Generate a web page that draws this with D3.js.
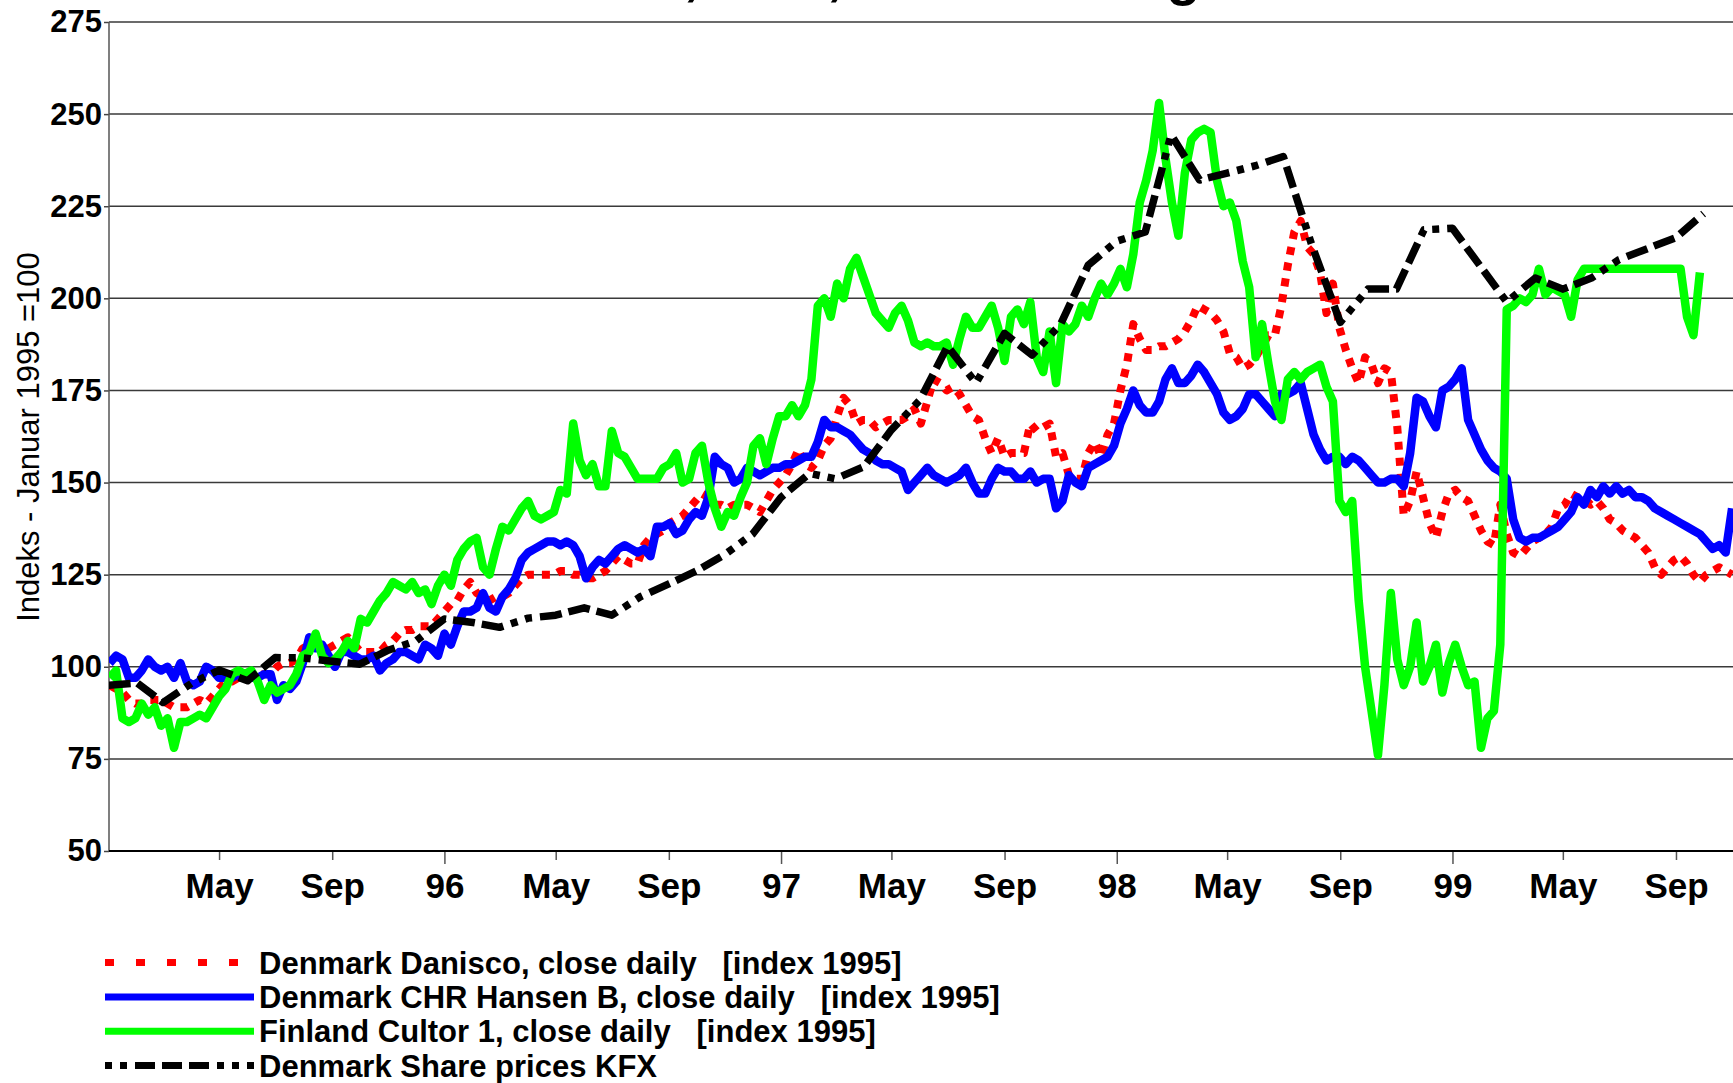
<!DOCTYPE html>
<html>
<head>
<meta charset="utf-8">
<script src="https://cdn.jsdelivr.net/npm/d3@7"></script>
<style>
  html, body { margin: 0; padding: 0; background: #fff; }
  svg { display: block; font-family: "Liberation Sans", Arial, sans-serif; }
</style>
</head>
<body>
<svg id="chart" width="1733" height="1083"></svg>
<script>
// weekly closes, first value = week of 1995-01-02
const weekStart = "1995-01-02";

const danisco = [
  95, 94, 93, 91, 90, 90, 91, 91, 91, 90,
  89, 89, 89, 90, 91, 90, 92, 94, 96, 96,
  97, 97, 97, 98, 98, 98, 100, 101, 101, 102,
  105, 106, 106, 106, 105, 106, 107, 108, 106, 104,
  104, 104, 104, 106, 107, 109, 110, 110, 111, 111,
  111, 113, 115, 117, 118, 121, 123, 120, 119, 118,
  119, 119, 120, 122, 124, 125, 125, 125, 125, 125,
  126, 126, 125, 125, 124, 124, 125, 126, 128, 130,
  129, 128, 128, 133, 135, 136, 137, 139, 140, 141,
  143, 145, 147, 146, 144, 144, 143, 144, 144, 144,
  143, 142, 145, 148, 150, 152, 155, 159, 155, 154,
  156, 160, 162, 168, 173, 171, 166, 167, 167, 165,
  166, 167, 167, 167, 168, 170, 166, 172, 178, 177,
  175, 176, 174, 171, 168, 167, 162, 158, 162, 157,
  158, 158, 158, 166, 164, 165, 166, 157, 158, 152,
  151, 151, 158, 161, 157, 163, 166, 175, 182, 193,
  189, 186, 186, 187, 187, 188, 189, 191, 194, 198,
  197, 196, 194, 191, 185, 184, 181, 182, 184, 187,
  190, 190, 198, 209, 218, 221, 214, 212, 207, 196,
  204, 192, 186, 181, 177, 184, 182, 177, 181, 180,
  165, 141, 145, 153, 146, 139, 135, 142, 147, 148,
  146, 145, 141, 137, 134, 133, 144, 136, 131, 130,
  132, 134, 135, 136, 138, 143, 144, 147, 146, 146,
  144, 145, 143, 140, 139, 137, 136, 135, 133, 131,
  127, 125, 127, 129, 130, 128, 125, 123, 125, 126,
  127, 126, 125
];

const hansen = [
  101, 103, 102, 97, 97, 99, 102, 100, 99, 100,
  97, 101, 96, 95, 96, 100, 99, 97, 97, 97,
  98, 98, 97, 97, 98, 98, 91, 95, 94, 96,
  101, 108, 105, 106, 103, 100, 104, 104, 103, 102,
  102, 103, 99, 101, 102, 104, 104, 103, 102, 106,
  105, 103, 109, 106, 111, 115, 115, 116, 120, 116,
  115, 119, 121, 124, 129, 131, 132, 133, 134, 134,
  133, 134, 133, 130, 124, 127, 129, 128, 130, 132,
  133, 132, 131, 132, 130, 138, 138, 139, 136, 137,
  140, 142, 141, 146, 157, 155, 154, 150, 151, 154,
  153, 152, 153, 154, 154, 155, 155, 156, 157, 157,
  161, 167, 165, 165, 164, 163, 161, 159, 158, 156,
  155, 155, 154, 153, 148, 150, 152, 154, 152, 151,
  150, 151, 152, 154, 150, 147, 147, 151, 154, 153,
  153, 151, 151, 153, 150, 151, 151, 143, 145, 152,
  150, 149, 154, 155, 156, 157, 160, 166, 170, 175,
  171, 169, 169, 172, 178, 181, 177, 177, 179, 182,
  180, 177, 174, 169, 167, 168, 170, 174, 174, 172,
  170, 168, 174, 174, 175, 177, 170, 163, 159, 156,
  157, 157, 155, 157, 156, 154, 152, 150, 150, 151,
  151, 149, 158, 173, 172, 168, 165, 175, 176, 178,
  181, 167, 163, 159, 156, 154, 153, 151, 140, 135,
  134, 135, 135, 136, 137, 138, 140, 142, 146, 144,
  148, 146, 149, 147, 149, 147, 148, 146, 146, 145,
  143, 142, 141, 140, 139, 138, 137, 136, 134, 132,
  133, 131, 143
];

const cultor = [
  97, 99, 86, 85, 86, 90, 87, 89, 84, 86,
  78, 85, 85, 86, 87, 86, 89, 92, 94, 98,
  99, 98, 99, 96, 91, 95, 93, 94, 95, 98,
  103, 104, 109, 103, 101, 102, 104, 107, 105, 113,
  112, 115, 118, 120, 123, 122, 121, 123, 120, 121,
  117, 122, 125, 122, 129, 132, 134, 135, 127, 125,
  132, 138, 137, 140, 143, 145, 141, 140, 141, 142,
  148, 147, 166, 156, 152, 155, 149, 149, 164, 158,
  157, 154, 151, 151, 151, 151, 154, 155, 158, 150,
  151, 158, 160, 150, 143, 138, 142, 141, 146, 150,
  160, 162, 155, 162, 168, 168, 171, 168, 171, 178,
  198, 200, 195, 204, 200, 208, 211, 206, 201, 196,
  194, 192, 196, 198, 194, 188, 187, 188, 187, 187,
  188, 182, 189, 195, 192, 192, 195, 198, 192, 183,
  195, 197, 193, 199, 184, 180, 191, 177, 193, 191,
  193, 198, 195, 200, 204, 201, 204, 208, 203, 212,
  226, 232, 240, 253, 238, 226, 217, 234, 243, 245,
  246, 245, 232, 225, 226, 221, 210, 203, 184, 193,
  182, 172, 167, 178, 180, 178, 180, 181, 182, 176,
  172, 145, 142, 145, 118, 100, 88, 76, 95, 120,
  102, 95, 100, 112, 96, 100, 106, 93, 101, 106,
  100, 95, 96, 78, 86, 88, 106, 197, 198, 200,
  199, 201, 208, 201, 203, 202, 201, 195, 205, 208,
  208, 208, 208, 208, 208, 208, 208, 208, 208, 208,
  208, 208, 208, 208, 208, 195, 190, 207
];

// KFX is monthly, first value = 1995-01-01
const kfxStart = "1995-01-01";
const kfx = [
  95, 95.6, 90.3, 95.5, 99.1, 96.2, 102.5, 102.4, 101.5, 100.7,
  104.5, 107, 113, 112, 110.7, 113.2, 114, 116, 114, 119,
  122.5, 126, 130.5, 136, 146, 152.5, 151, 154.3, 164.3, 172.4,
  187, 177, 190.5, 184.6, 193, 209, 215.5, 218, 244.4, 232.1,
  234, 236, 238.5, 214.5, 193.5, 202.5, 202.5, 218.6, 219, 208.5,
  199, 205.5, 202.5, 205.5, 210.5, 213.5, 216.5, 223
];

const yTicks = [50, 75, 100, 125, 150, 175, 200, 225, 250, 275];
const xTickDates = ["1995-05-01", "1995-09-01", "1996-01-01", "1996-05-01", "1996-09-01",
  "1997-01-01", "1997-05-01", "1997-09-01", "1998-01-01", "1998-05-01", "1998-09-01",
  "1999-01-01", "1999-05-01", "1999-09-01"];
const xTickLabels = ["May", "Sep", "96", "May", "Sep", "97", "May", "Sep", "98",
  "May", "Sep", "99", "May", "Sep"];
const legendLabels = [
  "Denmark Danisco, close daily   [index 1995]",
  "Denmark CHR Hansen B, close daily   [index 1995]",
  "Finland Cultor 1, close daily   [index 1995]",
  "Denmark Share prices KFX"
];
const titleText = "Danisco, KFX, Hansen B og Cultor";
const yTitle = "Indeks - Januar 1995 =100";

const parse = d3.utcParse("%Y-%m-%d");
const weekly = (values) =>
  values.map((v, i) => ({ date: d3.utcDay.offset(parse(weekStart), 7 * i), value: v }));
const monthly = (values) =>
  values.map((v, i) => ({ date: d3.utcMonth.offset(parse(kfxStart), i), value: v }));

const svg = d3.select("#chart");
const plotLeft = 109, plotRight = 1733, plotTop = 22, plotBottom = 851;

const x = d3.scaleUtc()
  .domain([parse("1995-01-01"), parse("1999-11-02")])
  .range([108.7, plotRight]);
const y = d3.scaleLinear().domain([50, 275]).range([plotBottom, plotTop]);

svg.append("rect").attr("width", 1733).attr("height", 1083).attr("fill", "#fff");

// title sits above the top edge; only its descenders reach into the picture
svg.append("text")
  .attr("x", 466).attr("y", -6)
  .attr("font-size", 56).attr("font-weight", "bold")
  .text(titleText);

// gridlines
svg.append("g")
  .selectAll("line")
  .data(yTicks.filter((d) => d > 50))
  .join("line")
  .attr("x1", plotLeft).attr("x2", plotRight)
  .attr("y1", (d) => y(d)).attr("y2", (d) => y(d))
  .attr("stroke", "#3a3a3a")
  .attr("stroke-width", 1.5);

// y axis
const yAxis = svg.append("g")
  .attr("transform", `translate(${plotLeft},0)`)
  .call(d3.axisLeft(y).tickValues(yTicks).tickSize(5).tickPadding(2));
yAxis.select(".domain").remove();
yAxis.selectAll(".tick line").attr("stroke", "#444").attr("stroke-width", 1.5);
yAxis.selectAll(".tick text")
  .attr("font-family", "Liberation Sans, Arial, sans-serif")
  .attr("font-size", 31)
  .attr("font-weight", "bold")
  .attr("fill", "#000");
svg.append("line")
  .attr("x1", plotLeft).attr("x2", plotLeft).attr("y1", plotTop).attr("y2", plotBottom)
  .attr("stroke", "#555").attr("stroke-width", 1.5);

// x axis
const xAxis = svg.append("g")
  .attr("transform", `translate(0,${plotBottom})`)
  .call(d3.axisBottom(x)
    .tickValues(xTickDates.map(parse))
    .tickFormat((d, i) => xTickLabels[i])
    .tickSize(9)
    .tickPadding(13));
xAxis.select(".domain").remove();
xAxis.selectAll(".tick line")
  .attr("stroke", "#555").attr("stroke-width", 1.5)
  .attr("y2", (d) => (d.getUTCMonth() === 0 ? 13 : 9));
xAxis.selectAll(".tick text")
  .attr("font-family", "Liberation Sans, Arial, sans-serif")
  .attr("font-size", 35)
  .attr("font-weight", "bold")
  .attr("fill", "#000");
svg.append("line")
  .attr("x1", plotLeft).attr("x2", plotRight).attr("y1", plotBottom).attr("y2", plotBottom)
  .attr("stroke", "#000").attr("stroke-width", 2);

svg.append("text")
  .attr("transform", "translate(28,437) rotate(-90)")
  .attr("text-anchor", "middle")
  .attr("dominant-baseline", "central")
  .attr("font-size", 31)
  .text(yTitle);

// series
const series = [
  { data: weekly(danisco), color: "#ff0000", width: 8, dash: "8 8", legendDash: "9 22" },
  { data: weekly(hansen), color: "#0000ff", width: 8.5, dash: null, legendDash: null },
  { data: weekly(cultor), color: "#00ff00", width: 8.5, dash: null, legendDash: null },
  { data: monthly(kfx), color: "#000000", width: 7.5,
    dash: "22 7 22 7 22 8 7 8 7 8", legendDash: "7 8 7 8 20 7 20 7 20 8" }
];

svg.append("clipPath").attr("id", "plot-clip")
  .append("rect").attr("x", plotLeft).attr("y", plotTop - 4)
  .attr("width", plotRight - plotLeft).attr("height", plotBottom - plotTop + 4);

const line = d3.line().x((d) => x(d.date)).y((d) => y(d.value));

svg.append("g")
  .attr("clip-path", "url(#plot-clip)")
  .selectAll("path")
  .data(series)
  .join("path")
  .attr("d", (s) => line(s.data))
  .attr("fill", "none")
  .attr("stroke", (s) => s.color)
  .attr("stroke-width", (s) => s.width)
  .attr("stroke-linejoin", "round")
  .attr("stroke-dasharray", (s) => s.dash);

// legend
const legend = svg.append("g");
series.forEach((s, i) => {
  const cy = 962.6 + i * 34.3;
  legend.append("line")
    .attr("x1", 105).attr("x2", 254).attr("y1", cy).attr("y2", cy)
    .attr("stroke", s.color)
    .attr("stroke-width", 7)
    .attr("stroke-dasharray", s.legendDash);
  legend.append("text")
    .attr("x", 259).attr("y", cy + 11)
    .attr("font-size", 31).attr("font-weight", "bold")
    .style("white-space", "pre")
    .text(legendLabels[i]);
});
</script>
</body>
</html>
